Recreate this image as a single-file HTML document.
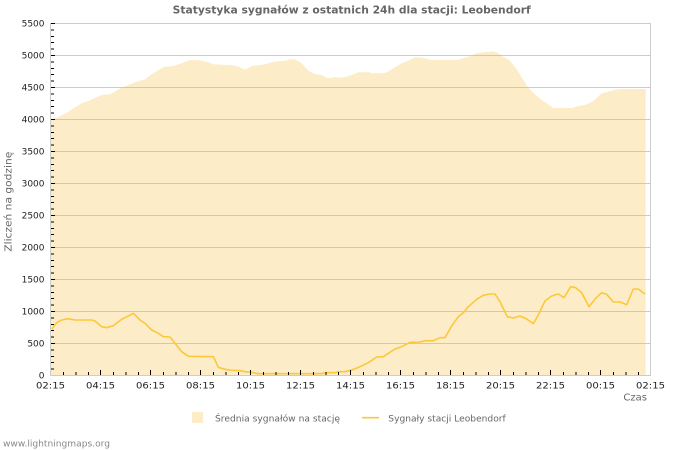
<!DOCTYPE html>
<html>
<head>
<meta charset="utf-8">
<style>
html,body{margin:0;padding:0;background:#fff;}
svg{display:block;}
text{font-family:"DejaVu Sans","Liberation Sans",sans-serif;}
</style>
</head>
<body>
<svg width="700" height="450" viewBox="0 0 700 450" xmlns="http://www.w3.org/2000/svg">
<rect width="700" height="450" fill="#fff"/>
<text x="351.7" y="13.5" font-size="10.5" font-weight="bold" fill="#666" text-anchor="middle" textLength="358" lengthAdjust="spacingAndGlyphs">Statystyka sygnałów z ostatnich 24h dla stacji: Leobendorf</text>

<!-- gridlines -->
<g stroke="#cccccc" stroke-width="1" shape-rendering="crispEdges">
<line x1="50" y1="23.5" x2="650" y2="23.5"/>
<line x1="50" y1="55.5" x2="650" y2="55.5"/>
<line x1="50" y1="87.5" x2="650" y2="87.5"/>
<line x1="50" y1="119.5" x2="650" y2="119.5"/>
<line x1="50" y1="151.5" x2="650" y2="151.5"/>
<line x1="50" y1="183.5" x2="650" y2="183.5"/>
<line x1="50" y1="215.5" x2="650" y2="215.5"/>
<line x1="50" y1="247.5" x2="650" y2="247.5"/>
<line x1="50" y1="279.5" x2="650" y2="279.5"/>
<line x1="50" y1="311.5" x2="650" y2="311.5"/>
<line x1="50" y1="343.5" x2="650" y2="343.5"/>
</g>

<!-- area -->
<polygon fill="rgba(248,185,51,0.27)" points="51,375 51,119.3 58.3,117.3 68.3,111.7 81.7,103.3 88.3,101 101.7,95 110,94.3 121.7,87.7 135,82.3 145,79.3 151.7,74.3 160,69 165,66.7 173.3,66 181.7,63.3 190,60 200,60.3 208.3,62.3 213.3,64.3 221.7,64.7 233.3,65.3 240,67.3 245,69.7 251.7,66 258.3,65.3 265,64.3 271.7,62.3 278.3,61.3 285,60.7 290,59.3 295,59.3 301.7,63.3 308.3,70.7 315,74 321.7,75.3 326.7,78 331.7,78 335,77 340,77.7 346.7,76.7 351.7,75 358.3,72.3 370,72.3 371.7,73.3 385,73 391.7,69.3 401.7,63.3 408.3,60.7 415,57.3 423.3,58 431.7,60 445,60 456.7,60 463.3,58.3 470,56 476.7,53.3 485,52.3 491.7,51.3 496.7,52.3 503.3,56.7 510,60.7 516.7,69.3 523.3,80 528.3,87.7 535,94.3 541.7,100 546.7,103.3 553.3,108 571.7,108 578.3,106 585,105 593.3,101 601.7,93.3 608.3,91.7 615,89.7 621.7,89 633.3,89 645.7,89 645.7,375"/>

<!-- plot frame -->
<g stroke="#cccccc" stroke-width="1" shape-rendering="crispEdges" fill="none">
<line x1="650.5" y1="23" x2="650.5" y2="375.5"/>
<line x1="50.5" y1="23" x2="50.5" y2="375.5"/>
<line x1="50" y1="375.5" x2="651" y2="375.5"/>
</g>

<!-- y ticks -->
<g stroke="#000" stroke-width="1" shape-rendering="crispEdges" id="yt"></g>
<!-- x ticks -->
<g stroke="#000" stroke-width="1" shape-rendering="crispEdges" id="xt"></g>

<!-- line series -->
<polyline fill="none" stroke="#fcc83a" stroke-width="1.6" stroke-linejoin="round" points="51.7,329.3 56.7,322.7 61.7,320 68.3,318.7 75,320 91.7,320 95,321 101.7,326.7 106.7,327.7 113.3,325.7 121.7,319.3 128.3,316 133.3,313.3 140,320 145,323.3 151.7,330 158.3,333.3 163.3,336.7 170,337 175,343.3 181.7,351.7 188.3,356.3 213.3,356.7 215,360 218.3,367.3 225,369.3 231.7,370.3 240,370.7 245,371.7 251.7,372.3 258.3,373.7 321.7,373.7 325,372.7 335,372.7 338.3,371.7 345,371.7 351.7,370 360,366.7 368.3,362.7 376.7,357 383.3,356.7 395,349 401.7,346.7 410,342.3 420,342 425,340.7 433.3,340.7 440,337.7 445,337.7 451.7,326 458.3,316.7 463.3,312.7 468.3,306.7 476.7,299.3 483.3,295.3 490,294 495,294 500,301.7 507.3,316.7 513.3,318 520,316 526.7,319 533.3,323.7 538.3,315 545,301 551.7,296 558.3,294 564,297.7 570.7,286.7 575.7,287.7 581.7,292.7 589,306.7 595.7,298.3 601.7,292.7 606.7,294.3 613.3,302 620,302 626.7,304.7 633.3,289 638.3,289 645,294"/>

<!-- y labels -->
<g font-size="9" fill="#222" text-anchor="end">
<text x="44.5" y="26.5">5500</text>
<text x="44.5" y="58.5">5000</text>
<text x="44.5" y="90.5">4500</text>
<text x="44.5" y="122.5">4000</text>
<text x="44.5" y="154.5">3500</text>
<text x="44.5" y="186.5">3000</text>
<text x="44.5" y="218.5">2500</text>
<text x="44.5" y="250.5">2000</text>
<text x="44.5" y="282.5">1500</text>
<text x="44.5" y="314.5">1000</text>
<text x="44.5" y="346.5">500</text>
<text x="44.5" y="378.5">0</text>
</g>

<!-- x labels -->
<g font-size="9" fill="#222" text-anchor="middle">
<text x="50.5" y="388.5" textLength="29" lengthAdjust="spacingAndGlyphs">02:15</text>
<text x="100.5" y="388.5" textLength="29" lengthAdjust="spacingAndGlyphs">04:15</text>
<text x="150.5" y="388.5" textLength="29" lengthAdjust="spacingAndGlyphs">06:15</text>
<text x="200.5" y="388.5" textLength="29" lengthAdjust="spacingAndGlyphs">08:15</text>
<text x="250.5" y="388.5" textLength="29" lengthAdjust="spacingAndGlyphs">10:15</text>
<text x="300.5" y="388.5" textLength="29" lengthAdjust="spacingAndGlyphs">12:15</text>
<text x="350.5" y="388.5" textLength="29" lengthAdjust="spacingAndGlyphs">14:15</text>
<text x="400.5" y="388.5" textLength="29" lengthAdjust="spacingAndGlyphs">16:15</text>
<text x="450.5" y="388.5" textLength="29" lengthAdjust="spacingAndGlyphs">18:15</text>
<text x="500.5" y="388.5" textLength="29" lengthAdjust="spacingAndGlyphs">20:15</text>
<text x="550.5" y="388.5" textLength="29" lengthAdjust="spacingAndGlyphs">22:15</text>
<text x="600.5" y="388.5" textLength="29" lengthAdjust="spacingAndGlyphs">00:15</text>
<text x="650.5" y="388.5" textLength="29" lengthAdjust="spacingAndGlyphs">02:15</text>
</g>

<text x="647" y="400.5" font-size="10" fill="#666" text-anchor="end">Czas</text>
<text transform="translate(11.3,201.7) rotate(-90)" font-size="10" fill="#666" text-anchor="middle" textLength="100" lengthAdjust="spacingAndGlyphs">Zliczeń na godzinę</text>

<!-- legend -->
<rect x="192" y="412" width="11" height="11" fill="#fdecc8"/>
<text x="215" y="421.5" font-size="9" fill="#666" textLength="125" lengthAdjust="spacingAndGlyphs">Średnia sygnałów na stację</text>
<line x1="362" y1="417.7" x2="379" y2="417.7" stroke="#fcc83a" stroke-width="1.6"/>
<text x="388.3" y="421.5" font-size="9" fill="#666" textLength="117.4" lengthAdjust="spacingAndGlyphs">Sygnały stacji Leobendorf</text>

<text x="3" y="446.5" font-size="9" fill="#888" textLength="107" lengthAdjust="spacingAndGlyphs">www.lightningmaps.org</text>

<!-- ticks (explicit) -->
<g stroke="#000" stroke-width="1" shape-rendering="crispEdges">
<path d="M51 23.5h4M51 29.9h3M51 36.3h3M51 42.7h3M51 49.1h3M51 55.5h4M51 61.9h3M51 68.3h3M51 74.7h3M51 81.1h3M51 87.5h4M51 93.9h3M51 100.3h3M51 106.7h3M51 113.1h3M51 119.5h4M51 125.9h3M51 132.3h3M51 138.7h3M51 145.1h3M51 151.5h4M51 157.9h3M51 164.3h3M51 170.7h3M51 177.1h3M51 183.5h4M51 189.9h3M51 196.3h3M51 202.7h3M51 209.1h3M51 215.5h4M51 221.9h3M51 228.3h3M51 234.7h3M51 241.1h3M51 247.5h4M51 253.9h3M51 260.3h3M51 266.7h3M51 273.1h3M51 279.5h4M51 285.9h3M51 292.3h3M51 298.7h3M51 305.1h3M51 311.5h4M51 317.9h3M51 324.3h3M51 330.7h3M51 337.1h3M51 343.5h4M51 349.9h3M51 356.3h3M51 362.7h3M51 369.1h3"/>
<path d="M63.5 375v-3M76 375v-3M88.5 375v-3M100.5 375v-5M113.5 375v-3M126 375v-3M138.5 375v-3M150.5 375v-5M163.5 375v-3M176 375v-3M188.5 375v-3M200.5 375v-5M213.5 375v-3M226 375v-3M238.5 375v-3M250.5 375v-5M263.5 375v-3M276 375v-3M288.5 375v-3M300.5 375v-5M313.5 375v-3M326 375v-3M338.5 375v-3M350.5 375v-5M363.5 375v-3M376 375v-3M388.5 375v-3M400.5 375v-5M413.5 375v-3M426 375v-3M438.5 375v-3M450.5 375v-5M463.5 375v-3M476 375v-3M488.5 375v-3M500.5 375v-5M513.5 375v-3M526 375v-3M538.5 375v-3M550.5 375v-5M563.5 375v-3M576 375v-3M588.5 375v-3M600.5 375v-5M613.5 375v-3M626 375v-3M638.5 375v-3"/>
</g>
</svg>
</body>
</html>
